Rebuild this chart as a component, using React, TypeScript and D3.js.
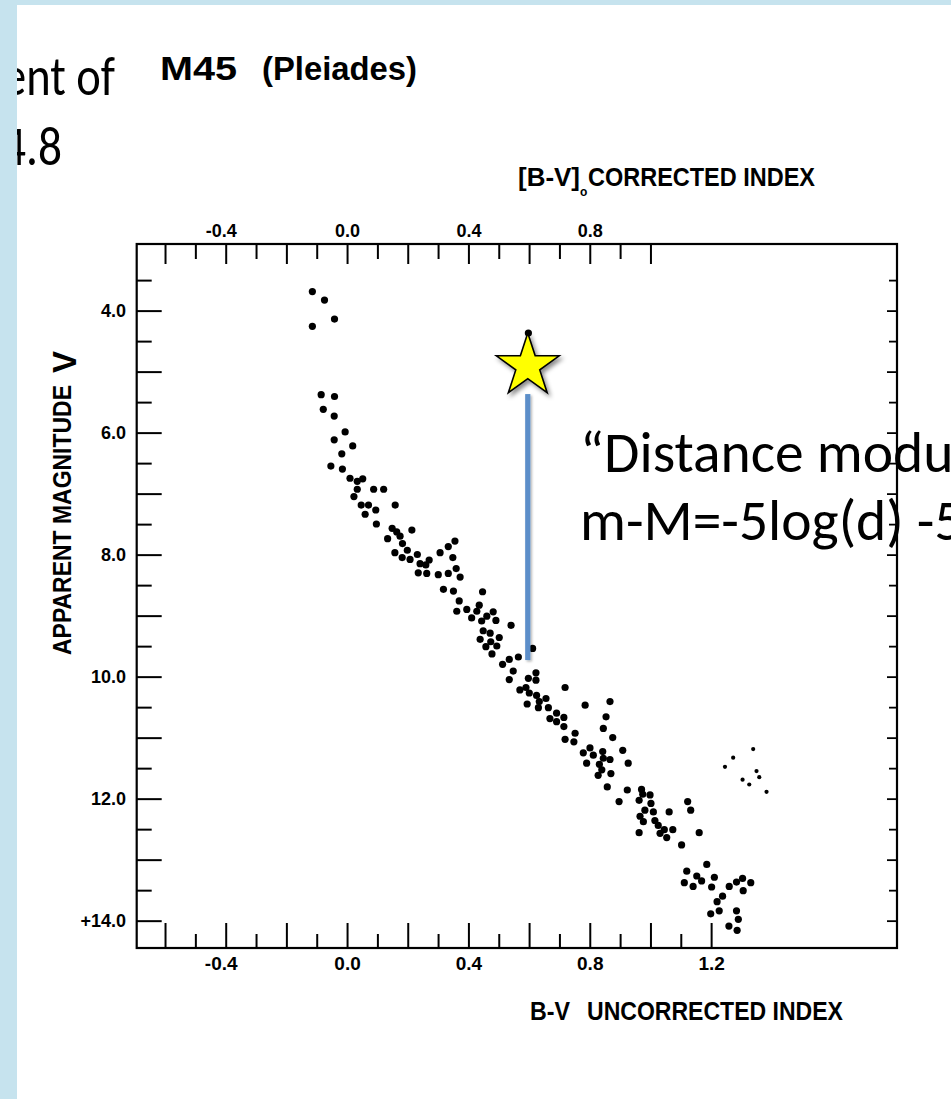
import React from 'react';
import * as d3 from 'd3';

const W = 951;
const H = 1099;

// Pleiades stars: [B-V uncorrected, apparent magnitude V]
const clusterStars: [number, number][] = [
  [-0.116, 3.68], [-0.076, 3.82], [-0.043, 4.13], [-0.116, 4.25], [0.596, 4.36],
  [-0.087, 5.37], [-0.043, 5.40], [-0.080, 5.61], [-0.044, 5.72], [-0.008, 5.98], [-0.044, 6.11],
  [0.017, 6.21], [-0.019, 6.34], [-0.055, 6.54], [-0.017, 6.59], [0.008, 6.74], [0.032, 6.79],
  [0.050, 6.75], [0.032, 6.92], [0.086, 6.92], [0.119, 6.92], [0.021, 7.04], [0.045, 7.18],
  [0.069, 7.18], [0.157, 7.18], [0.058, 7.33], [0.093, 7.26], [0.095, 7.49], [0.147, 7.56],
  [0.162, 7.62], [0.173, 7.69], [0.212, 7.59], [0.132, 7.73], [0.181, 7.81], [0.197, 7.92],
  [0.156, 7.96], [0.180, 8.04], [0.206, 8.07], [0.230, 7.99], [0.239, 8.14], [0.258, 8.16],
  [0.269, 8.08], [0.233, 8.29], [0.261, 8.30], [0.305, 7.96], [0.332, 7.86], [0.354, 7.77],
  [0.347, 8.04], [0.358, 8.22], [0.299, 8.32], [0.332, 8.30], [0.371, 8.36], [0.316, 8.56],
  [0.349, 8.59], [0.368, 8.75], [0.445, 8.60], [0.360, 8.92], [0.393, 8.89], [0.409, 9.03],
  [0.426, 8.92], [0.434, 8.82], [0.442, 9.08], [0.459, 9.00], [0.480, 8.93], [0.489, 9.07],
  [0.447, 9.24], [0.470, 9.28], [0.437, 9.38], [0.472, 9.42], [0.456, 9.50], [0.492, 9.49],
  [0.476, 9.62], [0.500, 9.35], [0.539, 9.15],
  [0.533, 9.71], [0.511, 9.79], [0.563, 9.67], [0.610, 9.53], [0.546, 9.90], [0.533, 10.04],
  [0.596, 10.02], [0.621, 9.93], [0.621, 10.05], [0.568, 10.21], [0.588, 10.17], [0.599, 10.26],
  [0.623, 10.30], [0.632, 10.40], [0.654, 10.35], [0.592, 10.44], [0.629, 10.50], [0.662, 10.50],
  [0.717, 10.17], [0.689, 10.59], [0.713, 10.66], [0.667, 10.68], [0.689, 10.73], [0.713, 10.81],
  [0.750, 10.92], [0.717, 11.02], [0.746, 11.06], [0.783, 10.46], [0.865, 10.40], [0.852, 10.65],
  [0.843, 10.84], [0.874, 10.99], [0.777, 11.24], [0.799, 11.16], [0.810, 11.28], [0.788, 11.41],
  [0.841, 11.22], [0.843, 11.33], [0.830, 11.43], [0.838, 11.52], [0.865, 11.35], [0.868, 11.58],
  [0.826, 11.61], [0.907, 11.20], [0.925, 11.41], [0.856, 11.80], [0.895, 12.04], [0.922, 11.85],
  [0.969, 11.84], [0.973, 11.92], [0.961, 12.02], [0.997, 11.93], [1.000, 12.07], [0.980, 12.18],
  [0.964, 12.28], [1.008, 12.21], [1.013, 12.35], [0.975, 12.37], [0.961, 12.55], [1.024, 12.43],
  [1.044, 12.50], [1.052, 12.63], [1.060, 12.21], [1.072, 12.50], [1.030, 12.56], [1.101, 12.75],
  [1.121, 12.04], [1.131, 12.18], [1.159, 12.55],
  [1.184, 13.07], [1.118, 13.18], [1.151, 13.26], [1.110, 13.37], [1.139, 13.43], [1.167, 13.34],
  [1.209, 13.28], [1.200, 13.44], [1.236, 13.59], [1.218, 13.68], [1.258, 13.43], [1.282, 13.36],
  [1.302, 13.30], [1.329, 13.37], [1.304, 13.50], [1.225, 13.83], [1.197, 13.88], [1.282, 13.83],
  [1.288, 13.97], [1.257, 14.08], [1.284, 14.15],
];

// faint stars to the right of the main sequence
const faintStars: [number, number][] = [
  [1.244, 11.47], [1.271, 11.32], [1.337, 11.18], [1.348, 11.54],
  [1.357, 11.64], [1.302, 11.68], [1.324, 11.76], [1.381, 11.88],
];

// highlighted star and its magnitude drop line
const markerStar: [number, number] = [0.594, 4.9];
const dropLine = { bv: 0.594, vTop: 5.36, vBottom: 9.72 };

const bottomTicks = d3.range(-6, 13).map((i) => i / 10);
const topTicks = d3.range(-6, 11).map((i) => i / 10);
const magTicks = d3.range(7, 29).map((i) => i / 2);
const bottomLabels = [-0.4, 0.0, 0.4, 0.8, 1.2];
const topLabels = [-0.4, 0.0, 0.4, 0.8];
const magLabels = [4, 6, 8, 10, 12, 14];

const xDomain: [number, number] = [-0.695, 1.811];
const yDomain: [number, number] = [2.9, 14.44];

const fmt = (v: number) => (Math.abs(v) < 1e-9 ? '0.0' : v.toFixed(1));

export default function App() {
  const x = d3.scaleLinear().domain(xDomain).range([136.7, 897]);
  const y = d3.scaleLinear().domain(yDomain).range([244, 948]);
  const [x0, x1] = x.range();
  const [y0, y1] = y.range();
  const chartFont = "'Liberation Sans', Arial, Helvetica, sans-serif";
  const slideFont = "Carlito, Calibri, Lato, sans-serif";
  const starR = 33;
  const starPath = d3.symbol().type(d3.symbolStar).size((starR * starR) / 0.8908130915292852)() as string;
  const isLong = (v: number) => Math.round(v * 10) % 2 === 0;
  const isInt = (v: number) => Math.abs(v - Math.round(v)) < 1e-9;
  const lineX = x(dropLine.bv);
  const lineTop = y(dropLine.vTop);
  const lineBottom = y(dropLine.vBottom);

  return (
    <svg
      width={W}
      height={H}
      viewBox={`0 0 ${W} ${H}`}
      style={{ position: 'absolute', left: 0, top: 0, display: 'block', background: '#fff' }}
    >
      <defs>
        <filter id="shadow" x="-30%" y="-30%" width="160%" height="160%">
          <feDropShadow dx="2.5" dy="3" stdDeviation="2" floodColor="#000" floodOpacity="0.45" />
        </filter>
        <filter id="lineShadow" filterUnits="userSpaceOnUse" x={0} y={0} width={W} height={H}>
          <feDropShadow dx="1.5" dy="1.5" stdDeviation="1.2" floodColor="#000" floodOpacity="0.3" />
        </filter>
      </defs>
      <rect x={0} y={0} width={W} height={H} fill="#fff" />

      {/* slide text behind the figure */}
      <text x={115} y={95} textAnchor="end" fontFamily={slideFont} fontSize={55} fill="#000"
        textLength={112} lengthAdjust="spacingAndGlyphs">ent of</text>
      <text x={62} y={165} textAnchor="end" fontFamily={slideFont} fontSize={55} fill="#000"
        textLength={60} lengthAdjust="spacingAndGlyphs">4.8</text>

      {/* title */}
      <text x={160} y={80} fontFamily={chartFont} fontWeight="bold" fontSize={34} textLength={77} lengthAdjust="spacingAndGlyphs">M45</text>
      <text x={262} y={80} fontFamily={chartFont} fontWeight="bold" fontSize={34} textLength={155} lengthAdjust="spacingAndGlyphs">(Pleiades)</text>

      {/* top axis title */}
      <text x={518} y={186} fontFamily={chartFont} fontWeight="bold" fontSize={26} textLength={62} lengthAdjust="spacingAndGlyphs">[B-V]</text>
      <text x={580} y={196} fontFamily={chartFont} fontWeight="bold" fontSize={12}>o</text>
      <text x={588} y={186} fontFamily={chartFont} fontWeight="bold" fontSize={26} textLength={227} lengthAdjust="spacingAndGlyphs">CORRECTED  INDEX</text>

      {/* frame */}
      <rect x={x0} y={y0} width={x1 - x0} height={y1 - y0} fill="none" stroke="#000" strokeWidth={2.2} />

      {/* bottom ticks */}
      {bottomTicks.map((t) => (
        <line key={'b' + t} x1={x(t)} x2={x(t)} y1={y1} y2={y1 - (isLong(t) ? 25 : 14)} stroke="#000" strokeWidth={2} />
      ))}
      {bottomLabels.map((t) => (
        <text key={'bl' + t} x={x(t) - (t < 0 ? 5 : 0)} y={963} textAnchor="middle" dominantBaseline="central"
          fontFamily={chartFont} fontWeight="bold" fontSize={19}>{fmt(t)}</text>
      ))}

      {/* top ticks */}
      {topTicks.map((t) => (
        <line key={'t' + t} x1={x(t)} x2={x(t)} y1={y0} y2={y0 + (isLong(t) ? 20 : 15)} stroke="#000" strokeWidth={2} />
      ))}
      {topLabels.map((t) => (
        <text key={'tl' + t} x={x(t) - (t < 0 ? 5 : 0)} y={231} textAnchor="middle" dominantBaseline="central"
          fontFamily={chartFont} fontWeight="bold" fontSize={18}>{fmt(t)}</text>
      ))}

      {/* left ticks */}
      {magTicks.map((m) => (
        <line key={'l' + m} x1={x0} x2={x0 + (isInt(m) ? 25 : 15)} y1={y(m)} y2={y(m)} stroke="#000" strokeWidth={2} />
      ))}
      {magLabels.map((m) => (
        <text key={'ll' + m} x={126} y={y(m)} textAnchor="end" dominantBaseline="central"
          fontFamily={chartFont} fontWeight="bold" fontSize={18}>{(m === 14 ? '+' : '') + m.toFixed(1)}</text>
      ))}

      {/* right ticks */}
      {magTicks.map((m) => (
        <line key={'r' + m} x1={x1} x2={x1 - (isInt(m) ? 10 : 8)} y1={y(m)} y2={y(m)} stroke="#000" strokeWidth={1.8} />
      ))}

      {/* y axis title */}
      <g transform="translate(71,655) rotate(-90)">
        <text x={0} y={0} fontFamily={chartFont} fontWeight="bold" fontSize={26} textLength={270} lengthAdjust="spacingAndGlyphs">APPARENT MAGNITUDE</text>
      </g>
      <g transform="translate(76,373) rotate(-90)">
        <text x={0} y={0} fontFamily={chartFont} fontWeight="bold" fontSize={33}>V</text>
      </g>

      {/* bottom axis title */}
      <text x={530} y={1020} fontFamily={chartFont} fontWeight="bold" fontSize={26} textLength={40} lengthAdjust="spacingAndGlyphs">B-V</text>
      <text x={587} y={1020} fontFamily={chartFont} fontWeight="bold" fontSize={26} textLength={256} lengthAdjust="spacingAndGlyphs">UNCORRECTED  INDEX</text>

      {/* data */}
      {clusterStars.map(([bv, v], i) => (
        <circle key={'s' + i} cx={x(bv)} cy={y(v)} r={3.6} fill="#000" />
      ))}
      {faintStars.map(([bv, v], i) => (
        <circle key={'f' + i} cx={x(bv)} cy={y(v)} r={2.1} fill="#000" />
      ))}

      {/* distance modulus annotation */}
      <rect x={lineX - 2.6} y={lineTop} width={5.2} height={lineBottom - lineTop}
        fill="#5b8ec9" filter="url(#lineShadow)" />
      <path d={starPath} transform={`translate(${x(markerStar[0])},${y(markerStar[1])})`}
        fill="#ffff00" stroke="#000" strokeWidth={1.6} strokeLinejoin="miter" filter="url(#shadow)" />

      <text x={580} y={472} fontFamily={slideFont} fontSize={57.5} fill="#000">“Distance modu</text>
      <text x={580} y={540} fontFamily={slideFont} fontSize={57.5} fill="#000">m-M=-5log(d) -5</text>

      {/* slide border */}
      <rect x={0} y={0} width={17} height={H} fill="#c6e3ee" />
      <rect x={0} y={0} width={W} height={5} fill="#c6e3ee" />
    </svg>
  );
}
